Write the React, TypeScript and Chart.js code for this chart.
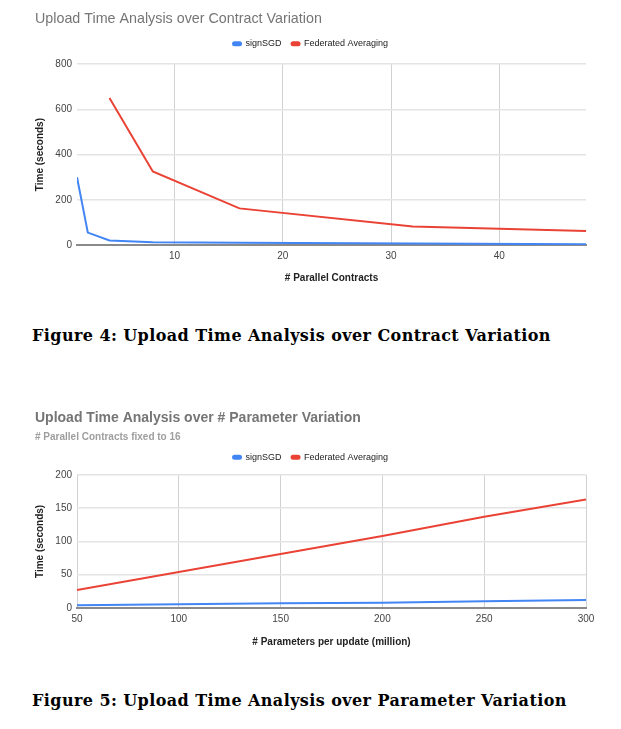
import React, { useEffect, useRef } from "react";
import { Chart, registerables } from "chart.js";
Chart.register(...registerables);

// ---- Figure 4 data ----
const CONTRACTS_SIGNSGD = [1, 2, 4, 8, 16, 32, 48];
const SIGNSGD_TIME_CONTRACTS = [300, 55, 20, 12, 10, 7, 3];
const CONTRACTS_FEDAVG = [4, 8, 16, 32, 48];
const FEDAVG_TIME_CONTRACTS = [650, 325, 162, 82, 62];
const X1_TICKS = [10, 20, 30, 40];
const Y1_TICKS = [0, 200, 400, 600, 800];

// ---- Figure 5 data ----
const PARAMS_MILLION = [50, 100, 150, 200, 250, 300];
const SIGNSGD_TIME_PARAMS = [4, 5.5, 7, 8, 10, 12];
const FEDAVG_TIME_PARAMS = [27, 54, 81, 108, 137, 163];
const X2_TICKS = [50, 100, 150, 200, 250, 300];
const Y2_TICKS = [0, 50, 100, 150, 200];

const SERIES_NAMES = ["signSGD", "Federated Averaging"];
const BLUE = "#4285F4";
const RED = "#EA4335";
const FONT = '"Liberation Sans", Arial, sans-serif';

const pts = (xs: number[], ys: number[]) => xs.map((x, i) => ({ x, y: ys[i] }));

function lineDs(label: string, color: string, data: { x: number; y: number }[]) {
  return {
    label,
    data,
    borderColor: color,
    backgroundColor: color,
    borderWidth: 2,
    pointRadius: 0,
    tension: 0,
    fill: false,
  };
}

// adds extra space below the legend
const legendGap = {
  id: "legendGap",
  beforeLayout(chart: any, _args: any, opts: any) {
    const lg = chart.legend;
    if (lg && !lg.__patched) {
      const orig = lg.fit;
      lg.fit = function () {
        orig.call(this);
        this.height += opts.extra || 0;
      };
      lg.__patched = true;
    }
  },
};

function makeOptions(opts: {
  title: string;
  titleBold: boolean;
  titleSize: number;
  titleGap: number;
  subtitle?: string;
  xTitle: string;
  xMin: number;
  xMax: number;
  xTicks: number[];
  yMax: number;
  yTicks: number[];
  padTop: number;
  legendExtra: number;
  tickPad: number;
  xTitlePad: number;
}) {
  return {
    responsive: false,
    animation: false as const,
    layout: { padding: { left: 35, right: 35, top: opts.padTop, bottom: 0 } },
    plugins: {
      legendGap: { extra: opts.legendExtra },
      title: {
        display: true,
        text: opts.title,
        align: "start" as const,
        color: "#757575",
        font: { family: FONT, size: opts.titleSize, weight: opts.titleBold ? "bold" : "normal" },
        padding: { top: 0, bottom: opts.titleGap },
      },
      subtitle: {
        display: !!opts.subtitle,
        text: opts.subtitle || "",
        align: "start" as const,
        color: "#9e9e9e",
        font: { family: FONT, size: 10, weight: "bold" },
        padding: { top: 0, bottom: 0 },
      },
      legend: {
        display: true,
        position: "top" as const,
        labels: {
          boxWidth: 8,
          boxHeight: 3,
          useBorderRadius: true,
          borderRadius: 1.5,
          color: "#222",
          font: { family: FONT, size: 9 },
          padding: 10,
        },
      },
      tooltip: { enabled: false },
    },
    scales: {
      x: {
        type: "linear" as const,
        min: opts.xMin,
        max: opts.xMax,
        afterBuildTicks: (s: any) => {
          s.ticks = opts.xTicks.map((v) => ({ value: v }));
        },
        grid: { color: "#d2d2d2", lineWidth: 1, drawTicks: false },
        border: { display: true, color: "#8a8a8a", width: 2 },
        ticks: { color: "#444", font: { family: FONT, size: 10 }, padding: opts.tickPad, maxRotation: 0 },
        title: {
          display: true,
          text: opts.xTitle,
          color: "#222",
          font: { family: FONT, size: 10, weight: "bold" },
          padding: { top: opts.xTitlePad, bottom: 0 },
        },
      },
      y: {
        type: "linear" as const,
        min: 0,
        max: opts.yMax,
        afterBuildTicks: (s: any) => {
          s.ticks = opts.yTicks.map((v) => ({ value: v }));
        },
        afterFit: (s: any) => {
          s.width = 42;
        },
        grid: {
          color: (ctx: any) => (ctx.tick && ctx.tick.value === 0 ? "rgba(0,0,0,0)" : "#e4e4e4"),
          lineWidth: 1.5,
          drawTicks: false,
        },
        border: { display: false },
        ticks: { color: "#444", font: { family: FONT, size: 10 }, padding: 5 },
        title: {
          display: true,
          text: "Time (seconds)",
          color: "#222",
          font: { family: FONT, size: 10, weight: "bold", lineHeight: 1 },
          padding: 0,
        },
      },
    },
  };
}

export default function App() {
  const c1 = useRef<HTMLCanvasElement>(null);
  const c2 = useRef<HTMLCanvasElement>(null);

  useEffect(() => {
    const ch1 = new Chart(c1.current!, {
      type: "line",
      data: {
        datasets: [
          lineDs(SERIES_NAMES[0], BLUE, pts(CONTRACTS_SIGNSGD, SIGNSGD_TIME_CONTRACTS)),
          lineDs(SERIES_NAMES[1], RED, pts(CONTRACTS_FEDAVG, FEDAVG_TIME_CONTRACTS)),
        ],
      },
      options: makeOptions({
        title: "Upload Time Analysis over Contract Variation",
        titleBold: false,
        titleSize: 14.3,
        titleGap: 2,
        xTitle: "# Parallel Contracts",
        xMin: 1,
        xMax: 48,
        xTicks: X1_TICKS,
        yMax: 800,
        yTicks: Y1_TICKS,
        padTop: 10,
        legendExtra: 6,
        tickPad: 5,
        xTitlePad: 5,
      }) as any,
      plugins: [legendGap],
    });
    const ch2 = new Chart(c2.current!, {
      type: "line",
      data: {
        datasets: [
          lineDs(SERIES_NAMES[0], BLUE, pts(PARAMS_MILLION, SIGNSGD_TIME_PARAMS)),
          lineDs(SERIES_NAMES[1], RED, pts(PARAMS_MILLION, FEDAVG_TIME_PARAMS)),
        ],
      },
      options: makeOptions({
        title: "Upload Time Analysis over # Parameter Variation",
        titleBold: true,
        titleSize: 14,
        titleGap: 4,
        subtitle: "# Parallel Contracts fixed to 16",
        xTitle: "# Parameters per update (million)",
        xMin: 50,
        xMax: 300,
        xTicks: X2_TICKS,
        yMax: 200,
        yTicks: Y2_TICKS,
        padTop: 20,
        legendExtra: 3,
        tickPad: 5,
        xTitlePad: 6,
      }) as any,
      plugins: [legendGap],
    });
    return () => {
      ch1.destroy();
      ch2.destroy();
    };
  }, []);

  const capStyle: React.CSSProperties = {
    position: "absolute",
    left: 32,
    font: 'bold 16px "DejaVu Serif", serif',
    letterSpacing: "0.42px",
    lineHeight: "20px",
    whiteSpace: "nowrap",
    color: "#000",
  };

  return (
    <div style={{ position: "absolute", left: 0, top: 0, width: 621, height: 729, background: "#fff", overflow: "hidden" }}>
      <canvas ref={c1} width={621} height={284} style={{ position: "absolute", left: 0, top: 0 }} />
      <div style={{ ...capStyle, top: 326 }}>Figure 4: Upload Time Analysis over Contract Variation</div>
      <canvas ref={c2} width={621} height={258} style={{ position: "absolute", left: 0, top: 390 }} />
      <div style={{ ...capStyle, top: 691 }}>Figure 5: Upload Time Analysis over Parameter Variation</div>
    </div>
  );
}
